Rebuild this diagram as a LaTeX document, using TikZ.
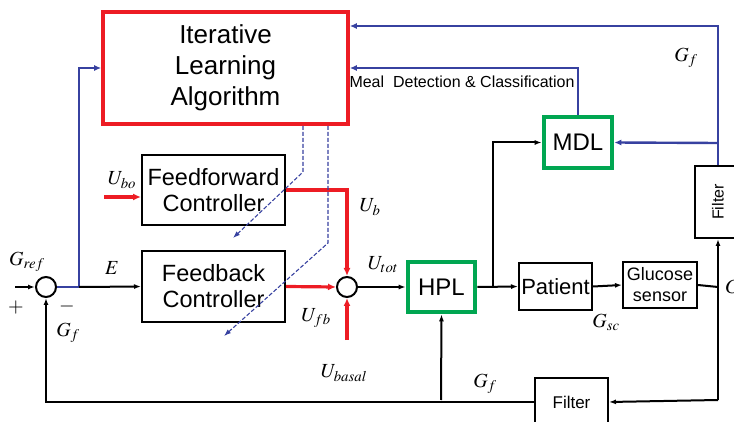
\documentclass[tikz,border=0pt]{standalone}
\usepackage{mathptmx}
\usepackage{fontspec}
\setmainfont{Liberation Sans}
\usepackage{tikz}
\usetikzlibrary{arrows.meta,positioning}
\definecolor{ilared}{RGB}{237,28,36}
\definecolor{mdlgreen}{RGB}{0,166,81}
\definecolor{fbblue}{RGB}{55,65,160}

\begin{document}
\begin{tikzpicture}[x=1pt,y=-1pt,font=\fontsize{23.5}{26}\selectfont,
box/.style={draw,line width=2pt,align=center,inner sep=0pt},
redbox/.style={box,draw=ilared,line width=3.6pt},
greenbox/.style={box,draw=mdlgreen,line width=4.6pt},
sumnode/.style={draw,circle,line width=2pt,minimum size=20pt,inner sep=0pt},
lab/.style={font=\fontsize{20}{24}\selectfont,inner sep=0pt},
arr/.style={-{Latex[length=7pt,width=5pt]},line width=2pt},
redarr/.style={-{Latex[length=8pt,width=7pt]},line width=3.2pt,draw=ilared},
blin/.style={line width=2.4pt,draw=fbblue},
barr/.style={blin,-{Latex[length=7pt,width=6pt]}},
dasharr/.style={-{Latex[length=7pt,width=5pt]},line width=1.1pt,dash pattern=on 4pt off 2pt,draw=fbblue}]
\useasboundingbox (0,0) rectangle (734,422);
% blocks
\node[redbox,minimum width=245pt,minimum height=112pt,font=\fontsize{26}{31}\selectfont] (ila) at (225.5,68) {Iterative\\Learning\\Algorithm};
\node[box,minimum width=143pt,minimum height=70pt] (ff) at (213.5,190) {Feedforward\\Controller};
\node[box,minimum width=143pt,minimum height=71pt] (fb) at (213.5,286.5) {Feedback\\Controller};
\node[sumnode] (sum1) at (46,287) {};
\node[sumnode] (sum2) at (347,287) {};
\node[greenbox,minimum width=67pt,minimum height=50pt,font=\fontsize{24}{28}\selectfont] (hpl) at (441.5,287) {HPL};
\node[greenbox,minimum width=68pt,minimum height=51pt,font=\fontsize{24}{28}\selectfont] (mdl) at (578,142.5) {MDL};
\node[box,minimum width=73pt,minimum height=47pt,font=\fontsize{22}{26}\selectfont] (pat) at (555.5,286.5) {Patient};
\node[box,minimum width=74pt,minimum height=46pt,font=\fontsize{18}{21}\selectfont] (sen) at (660,285) {Glucose\\sensor};
\node[box,minimum width=46pt,minimum height=72pt,font=\fontsize{16}{18}\selectfont] (filt1) at (718,202) {\rotatebox{90}{Filter}};
\node[box,minimum width=73pt,minimum height=48pt,font=\fontsize{17}{20}\selectfont] (filt2) at (571.5,402) {Filter};
% branch points
\coordinate (in) at (15,287);
\coordinate (br1) at (79,287);
\coordinate (ubo) at (104,197);
\coordinate (ubas) at (347,340);
\coordinate (br2) at (493,287);
\coordinate (br3) at (718,287);
\coordinate (cr) at (718,400);
\coordinate (br4) at (441,400);
\coordinate (br5) at (718,143);
\coordinate (d1s) at (303,126);
\coordinate (d1m) at (303,172);
\coordinate (d1e) at (233,238);
\coordinate (d2s) at (328,126);
\coordinate (d2m) at (328,243);
\coordinate (d2e) at (224,336);
% connectors
\draw[arr] (in) -- (sum1);
\draw[blin] (sum1) -- (br1);
\draw[barr] (br1) |- (ila.west);
\draw[arr] (br1) -- (fb.west);
\draw[redarr] (ubo) -- ([yshift=-7pt]ff.west);
\draw[redarr] (ff.east) -| (sum2.north);
\draw[redarr] (fb.east) -- (sum2.west);
\draw[redarr] (ubas) -- (sum2.south);
\draw[arr] (sum2) -- (hpl.west);
\draw[arr] (hpl.east) -- (pat.west);
\draw[arr] (br2) |- (mdl.west);
\draw[arr] (pat.east) -- (sen.west);
\draw[line width=2pt] (sen.east) -- (br3);
\draw[arr] (cr) -- (filt1.south);
\draw[arr] (cr) -- (filt2.east);
\draw[arr] (filt2.west) -| (sum1.south);
\draw[arr] (br4) -- (hpl.south);
\draw[barr] (filt1.north) |- ([yshift=42pt]ila.east);
\draw[barr] (mdl.north) |- (ila.east);
\draw[barr] (br5) -- (mdl.east);
\draw[dasharr] (d1s) -- (d1m) -- (d1e);
\draw[dasharr] (d2s) -- (d2m) -- (d2e);
% labels
\node[lab] (lgref) at (27,262) {$G_{ref}$};
\node[lab] (lplus) at (16,308) {$+$};
\node[lab] (lminus) at (67,307) {$-$};
\node[lab] (lgf1) at (68,333) {$G_{f}$};
\node[lab] (le) at (112,268) {$E$};
\node[lab] (lubo) at (122,180) {$U_{bo}$};
\node[lab] (lub) at (370,207) {$U_{b}$};
\node[lab] (lutot) at (383,265) {$U_{tot}$};
\node[lab] (lufb) at (316,318) {$U_{fb}$};
\node[lab] (lubasal) at (344,373) {$U_{basal}$};
\node[lab] (lgsc) at (606,322) {$G_{sc}$};
\node[lab] (lgf2) at (485,384) {$G_{f}$};
\node[lab] (lgf3) at (686,58) {$G_{f}$};
\node[lab,anchor=west] (lg) at (725,287) {$G$};
\node[font=\fontsize{16}{18}\selectfont,inner sep=0pt] (lmeal) at (462,82) {Meal\ \ Detection \& Classification};
\end{tikzpicture}
\end{document}
